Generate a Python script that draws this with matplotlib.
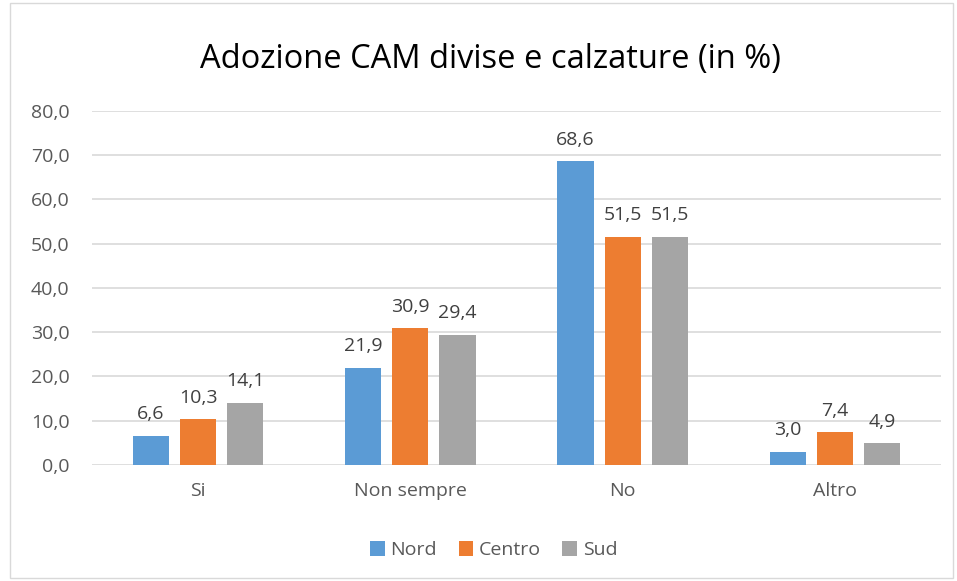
import matplotlib.pyplot as plt
import numpy as np
from matplotlib.patches import Rectangle

plt.rcParams["font.family"] = ["Open Sans", "DejaVu Sans"]

CATEGORIES = ["Si", "Non sempre", "No", "Altro"]
SERIES = ["Nord", "Centro", "Sud"]
NORD = [6.6, 21.9, 68.6, 3.0]
CENTRO = [10.3, 30.9, 51.5, 7.4]
SUD = [14.1, 29.4, 51.5, 4.9]
COLORS = ["#5B9BD5", "#ED7D31", "#A5A5A5"]
TEXT = "#595959"
FS = 14

fig = plt.figure(figsize=(9.57, 5.81), dpi=100)
ax = fig.add_axes([0.0961, 0.1997, 0.8872, 0.6098])

x = np.arange(len(CATEGORIES))
width = 0.17
step = 0.222
for i, (name, vals) in enumerate(zip(SERIES, [NORD, CENTRO, SUD])):
    pos = x + (i - 1) * step
    bars = ax.bar(pos, vals, width, color=COLORS[i], label=name, zorder=3)
    for b, v in zip(bars, vals):
        ax.annotate(f"{v:.1f}".replace(".", ","), (b.get_x() + b.get_width() / 2, v),
                    xytext=(0, 9), textcoords="offset points", ha="center", va="bottom",
                    fontsize=FS, color="#404040")

ax.set_xlim(-0.5, len(CATEGORIES) - 0.5)
ax.set_ylim(0, 80)
ax.set_yticks(np.arange(0, 81, 10))
ax.set_yticklabels([f"{t:.1f}".replace(".", ",") for t in np.arange(0, 81, 10)])
ax.set_xticks(x)
ax.set_xticklabels(CATEGORIES)
ax.tick_params(axis="both", length=0, colors=TEXT, labelsize=FS)
ax.tick_params(axis="y", pad=16)
ax.tick_params(axis="x", pad=12)
ax.grid(axis="y", color="#D9D9D9", linewidth=1.2, zorder=0)
for s in ax.spines.values():
    s.set_visible(False)

fig.text(0.512, 0.898, "Adozione CAM divise e calzature (in %)", ha="center", va="center",
         fontsize=23.5, color="#000000")

fig.legend(loc="center", bbox_to_anchor=(0.516, 0.053), ncol=3, frameon=False,
           fontsize=FS, handlelength=0.75, handleheight=0.75, handletextpad=0.3,
           columnspacing=1.1, labelcolor=TEXT)

fig.patches.append(Rectangle((0.0105, 0.005), 0.985, 0.99, transform=fig.transFigure,
                             fill=False, edgecolor="#D9D9D9", linewidth=1))

fig.savefig("out.png", dpi=100)
